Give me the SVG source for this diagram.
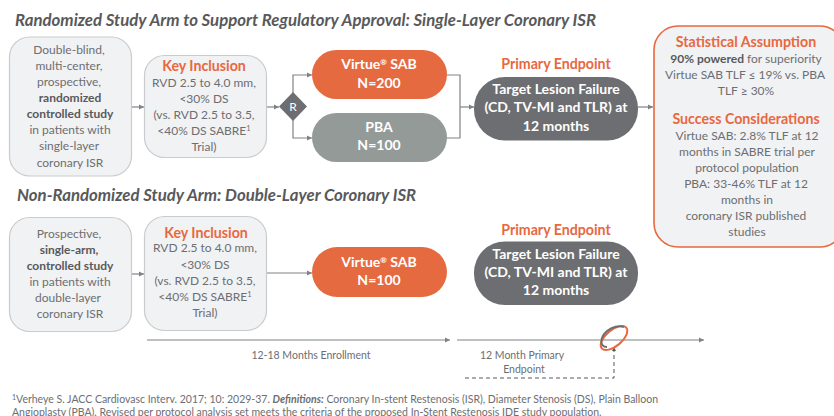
<svg xmlns="http://www.w3.org/2000/svg" width="834" height="416" viewBox="0 0 834 416">
<style>
text{font-family:"Lato","Open Sans","Liberation Sans",sans-serif;text-anchor:middle}
.h{font-size:16.8px;font-weight:700;font-style:italic;fill:#58595b;text-anchor:start}
.b{font-size:12px;fill:#6d6e71}
.bb{font-weight:700;fill:#58595b}
.o{font-size:14.2px;font-weight:700;fill:#e8683f}
.w{font-size:14px;font-weight:700;fill:#fff}
.box{fill:#f1f2f4;stroke:#c9cbcc;stroke-width:1.2}
.c{fill:none;stroke:#808285;stroke-width:1.2}
.f{font-size:10.5px;fill:#6d6e71;text-anchor:start}
.t{font-size:10.5px;fill:#6d6e71}
</style>
<defs><marker id="a" markerWidth="6" markerHeight="6" refX="5" refY="3" orient="auto" markerUnits="userSpaceOnUse"><path d="M0 0.5L5 3L0 5.5Z" fill="#808285"/></marker><marker id="d" markerWidth="5" markerHeight="5" refX="4" refY="2.5" orient="auto" markerUnits="userSpaceOnUse"><path d="M0 0.5L4 2.5L0 4.5Z" fill="#58595b"/></marker></defs>
<rect width="834" height="416" fill="#fff"/>
<text class="h" x="15" y="26">Randomized Study Arm to Support Regulatory Approval: Single-Layer Coronary ISR</text>
<text class="h" x="17" y="201">Non-Randomized Study Arm: Double-Layer Coronary ISR</text>
<g id="connectors">
<path class="c" marker-end="url(#a)" d="M131 107H144"/>
<path class="c" marker-end="url(#a)" d="M267 107H279"/>
<path class="c" marker-end="url(#a)" d="M293 93V75H312"/>
<path class="c" marker-end="url(#a)" d="M293 120V138H312"/>
<path class="c" d="M447 75H460V138H447"/>
<path class="c" marker-end="url(#a)" d="M460 107H474"/>
<path class="c" marker-end="url(#a)" d="M638 107H653"/>
<path class="c" marker-end="url(#a)" d="M131 274H144"/>
<path class="c" marker-end="url(#a)" d="M267 273H312"/>
<path class="c" marker-end="url(#a)" d="M147 340H450"/>
<path class="c" marker-end="url(#a)" d="M457 340H704"/>
<path d="M465 378H614V347" fill="none" stroke="#58595b" stroke-width="1" stroke-dasharray="4 3" marker-end="url(#d)"/>
</g>
<g id="n1"><rect class="box" x="9.5" y="37" width="122" height="139" rx="20"/>
<text class="b" x="69" y="54">Double-blind,</text><text class="b" x="69" y="70">multi-center,</text><text class="b" x="69" y="86">prospective,</text>
<text class="b bb" x="70" y="102">randomized</text><text class="b bb" x="70" y="118">controlled study</text>
<text class="b" x="70" y="134">in patients with</text><text class="b" x="69" y="150">single-layer</text><text class="b" x="70" y="167">coronary ISR</text></g>
<g id="n2"><rect class="box" x="144.5" y="55.5" width="122" height="102" rx="20"/>
<text class="o" x="204" y="71">Key Inclusion</text>
<text class="b" x="204" y="87">RVD 2.5 to 4.0 mm,</text><text class="b" x="204" y="103">&lt;30% DS</text><text class="b" x="204" y="119">(vs. RVD 2.5 to 3.5,</text>
<text class="b" x="204" y="135">&lt;40% DS SABRE<tspan font-size="7.5" dy="-4">1</tspan></text><text class="b" x="204" y="151">Trial)</text></g>
<g id="r"><path d="M293 92L307 106.500L293 121L279 106.500Z" fill="#6d6e71"/><text x="293" y="111" font-size="12" fill="#fff">R</text></g>
<g id="v1"><rect x="312" y="50" width="135" height="49" rx="24.500" fill="#e66a40"/>
<text class="w" x="379" y="69">Virtue<tspan font-size="8" dy="-4">®</tspan><tspan dy="4"> SAB</tspan></text><text class="w" x="379" y="88">N=200</text></g>
<g id="p1"><rect x="312" y="113" width="135" height="49" rx="24.500" fill="#949a98"/>
<text class="w" x="379" y="132">PBA</text><text class="w" x="379" y="150">N=100</text></g>
<g id="e1"><text class="o" x="556" y="69">Primary Endpoint</text>
<rect x="474" y="77" width="164" height="63.500" rx="31" fill="#6d6e71"/>
<text class="w" x="556" y="94">Target Lesion Failure</text><text class="w" x="556" y="112">(CD, TV-MI and TLR) at</text><text class="w" x="556" y="131">12 months</text></g>
<g id="s"><rect x="654" y="26" width="190" height="221" rx="24" fill="#f1f2f4" stroke="#e8683f" stroke-width="1.600"/>
<text class="o" x="746" y="47">Statistical Assumption</text>
<text class="b" x="746" y="63"><tspan class="bb">90% powered</tspan> for superiority</text>
<text class="b" x="745" y="79">Virtue SAB TLF ≤ 19% vs. PBA</text><text class="b" x="746" y="95">TLF ≥ 30%</text>
<text class="o" x="746" y="124">Success Considerations</text>
<text class="b" x="747" y="140">Virtue SAB: 2.8% TLF at 12</text><text class="b" x="747" y="156">months in SABRE trial per</text><text class="b" x="747" y="172">protocol population</text>
<text class="b" x="746" y="188">PBA: 33-46% TLF at 12</text><text class="b" x="747" y="204">months in</text><text class="b" x="746" y="220">coronary ISR published</text><text class="b" x="747" y="236">studies</text></g>
<g id="n3"><rect class="box" x="9.5" y="217.500" width="122" height="114" rx="20"/>
<text class="b" x="69" y="238">Prospective,</text><text class="b bb" x="69" y="254">single-arm,</text><text class="b bb" x="70" y="270">controlled study</text>
<text class="b" x="70" y="286">in patients with</text><text class="b" x="68" y="302">double-layer</text><text class="b" x="70" y="318">coronary ISR</text></g>
<g id="n4"><rect class="box" x="144.500" y="216.500" width="122" height="114" rx="20"/>
<text class="o" x="206" y="238">Key Inclusion</text>
<text class="b" x="205" y="252">RVD 2.5 to 4.0 mm,</text><text class="b" x="205" y="269">&lt;30% DS</text><text class="b" x="205" y="285">(vs. RVD 2.5 to 3.5,</text>
<text class="b" x="205" y="301">&lt;40% DS SABRE<tspan font-size="7.500" dy="-4">1</tspan></text><text class="b" x="205" y="317">Trial)</text></g>
<g id="v2"><rect x="312" y="247" width="135" height="50" rx="25" fill="#e66a40"/>
<text class="w" x="379" y="267">Virtue<tspan font-size="8" dy="-4">®</tspan><tspan dy="4"> SAB</tspan></text><text class="w" x="379" y="285">N=100</text></g>
<g id="e2"><text class="o" x="556" y="235">Primary Endpoint</text>
<rect x="474" y="241.500" width="164" height="63.500" rx="31" fill="#6d6e71"/>
<text class="w" x="556" y="259">Target Lesion Failure</text><text class="w" x="556" y="277">(CD, TV-MI and TLR) at</text><text class="w" x="556" y="295">12 months</text></g>
<g id="tl">
<text class="t" x="311" y="359">12-18 Months Enrollment</text>
<text class="t" x="522" y="359">12 Month Primary</text><text class="t" x="524" y="373">Endpoint</text>
<ellipse cx="614" cy="338" rx="16" ry="8" transform="rotate(-40 614 338)" fill="none" stroke="#e8683f" stroke-width="2"/>
<path d="M607 347C599 347 600 337 607 331C612 327 619 325 624 327" fill="none" stroke="#6d6e71" stroke-width="2"/>
</g>
<text class="f" x="12" y="403"><tspan font-size="7" dy="-3">1</tspan><tspan dy="3">Verheye S. JACC Cardiovasc Interv. 2017; 10: 2029-37. </tspan><tspan font-weight="700" font-style="italic">Definitions:</tspan> Coronary In-stent Restenosis (ISR), Diameter Stenosis (DS), Plain Balloon</text>
<text class="f" x="12" y="416">Angioplasty (PBA). Revised per protocol analysis set meets the criteria of the proposed In-Stent Restenosis IDE study population.</text>
</svg>
